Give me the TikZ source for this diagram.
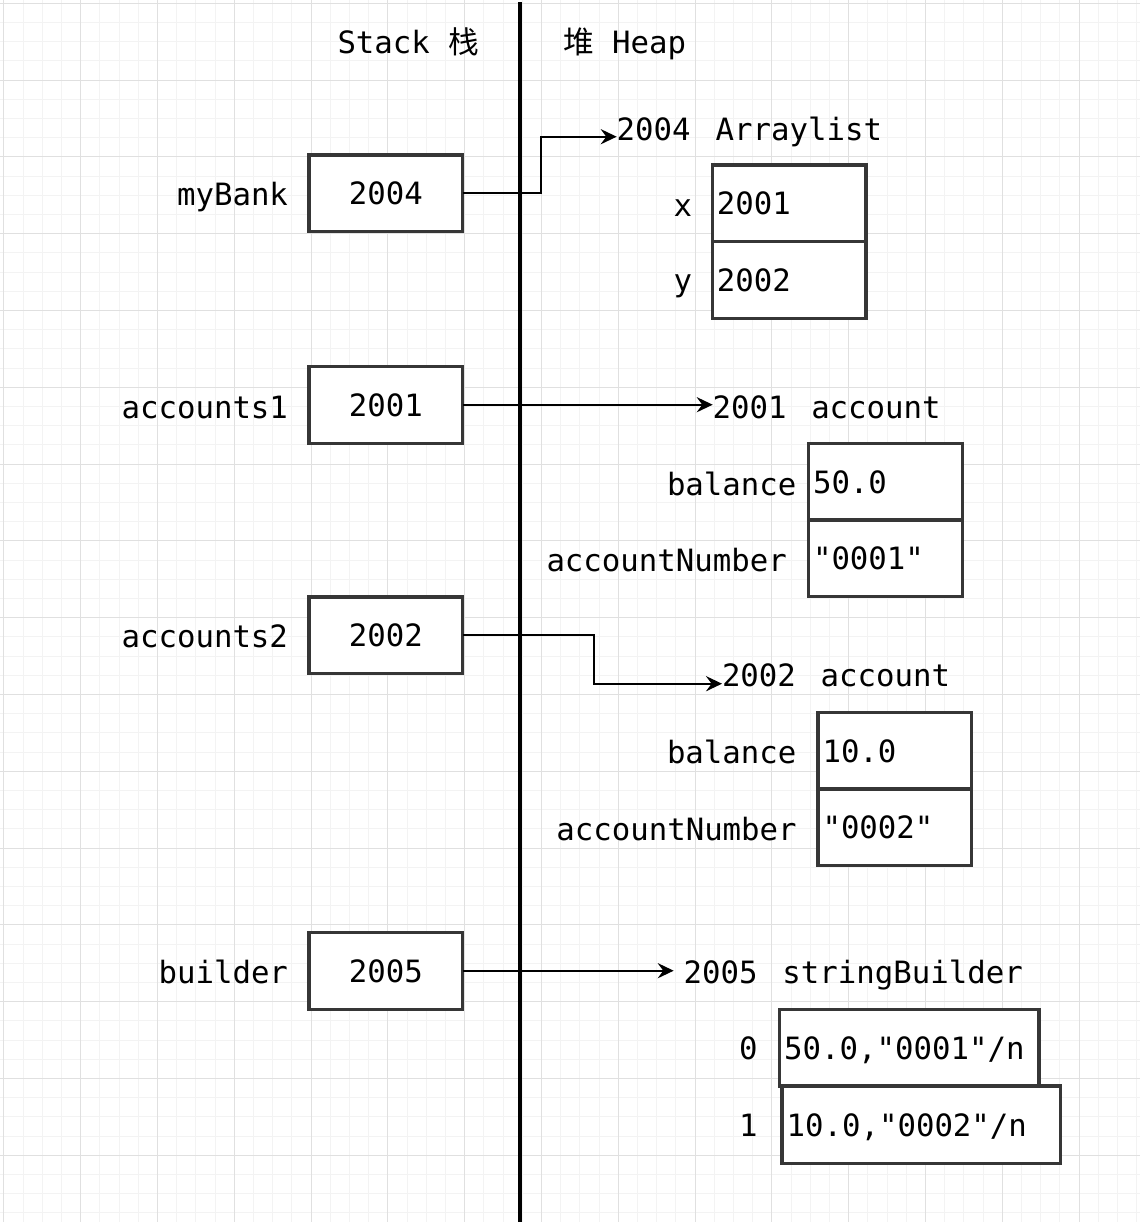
\documentclass[tikz,border=0pt]{standalone}
\usepackage{fontspec}
\setmonofont{DejaVu Sans Mono}
\newfontfamily\cjk{Noto Sans CJK SC}
\usetikzlibrary{arrows.meta,calc}
\definecolor{boxc}{HTML}{363636}
\definecolor{gmin}{HTML}{F3F3F3}
\definecolor{gmaj}{HTML}{E0E0E0}
\begin{document}
\begin{tikzpicture}[x=0.5pt,y=-0.5pt,
  every node/.style={font=\ttfamily\fontsize{15.36}{18}\selectfont, inner sep=0pt, outer sep=0pt},
  sbox/.style={draw=boxc, line width=1.6pt, fill=white, minimum width=76.8pt, minimum height=38.4pt, text height=11.6pt, text depth=0pt},
  cell/.style={draw=boxc, line width=1.6pt, fill=white, minimum height=38.4pt, inner xsep=2.25pt, align=left, text height=11.6pt, text depth=0pt},
  lbl/.style={anchor=base east},
  ttl/.style={anchor=base west},
  conn/.style={line width=0.95pt, -{Stealth[length=8pt,width=7.6pt,inset=2.8pt]}},
]
\useasboundingbox (0,0) rectangle (1140,1222);
\fill[white] (0,0) rectangle (1140,1222);
% grid
\foreach \i in {0,...,59} {\draw[gmin, line width=0.5pt] ({3.8+19.2*\i},0) -- ({3.8+19.2*\i},1222);}
\foreach \i in {0,...,63} {\draw[gmin, line width=0.5pt] (0,{3.3+19.2*\i}) -- (1140,{3.3+19.2*\i});}
\foreach \i in {0,...,14} {\draw[gmaj, line width=0.5pt] ({3.8+76.8*\i},0) -- ({3.8+76.8*\i},1222);}
\foreach \i in {0,...,15} {\draw[gmaj, line width=0.5pt] (0,{3.3+76.8*\i}) -- (1140,{3.3+76.8*\i});}

% titles
\node[ttl] (stk) at (337.5,53.3) {Stack {\cjk 栈}};
\node[ttl] (hp) at (563,53.3) {{\cjk 堆} Heap};

% stack
\node[sbox] (mybank) at (385.8,193.3) {2004};
\node[lbl] (mybankl) at (288,205.7) {myBank};
\node[sbox] (acc1) at (385.8,404.7) {2001};
\node[lbl] (acc1l) at (288,418.3) {accounts1};
\node[sbox] (acc2) at (385.8,635.3) {2002};
\node[lbl] (acc2l) at (288,647.7) {accounts2};
\node[sbox] (bld) at (385.8,970.7) {2005};
\node[lbl] (bldl) at (288,983.3) {builder};

% heap: Arraylist
\node[ttl] (alt) at (616.7,140.7) {2004\hspace{12.5pt}Arraylist};
\node[cell, text width=72.3pt] (cx) at (789.2,203.3) {2001};
\node[cell, text width=72.3pt] (cy) at (789.2,280) {2002};
\node[ttl] (cxl) at (673.5,216) {x};
\node[ttl] (cyl) at (673.5,291) {y};

% heap: account 2001
\node[ttl] (a1t) at (712.7,418.3) {2001\hspace{12.3pt}account};
\node[cell, text width=72.3pt] (a1b) at (885.3,481.7) {50.0};
\node[cell, text width=72.3pt] (a1n) at (885.3,558.3) {"0001"};
\node[ttl] (a1bl) at (667,495) {balance};
\node[ttl] (a1nl) at (546.5,571.7) {accountNumber};

% heap: account 2002
\node[ttl] (a2t) at (722,686.7) {2002\hspace{12.3pt}account};
\node[cell, text width=72.3pt] (a2b) at (894.8,750.7) {10.0};
\node[cell, text width=72.3pt] (a2n) at (894.8,827.3) {"0002"};
\node[ttl] (a2bl) at (667,763.3) {balance};
\node[ttl] (a2nl) at (556.3,840) {accountNumber};

% heap: stringBuilder
\node[ttl] (sbt) at (683.7,983.3) {2005\hspace{12.4pt}stringBuilder};
\node[cell, text width=125.15pt] (s0) at (909.3,1048) {50.0,"0001"/n};
\node[cell, text width=134.65pt, minimum height=38.65pt] (s1) at (921.2,1124.7) {10.0,"0002"/n};
\node[ttl] (s0l) at (739,1059) {0};
\node[ttl] (s1l) at (739,1136.7) {1};

% divider
\draw[line width=1.9pt] (520,2) -- (520,1222);

% connectors
\draw[conn] (mybank.east) -- ++(78,0) |- ($(alt.base west)+(0,-4)$);
\draw[conn] (acc1.east) -- (acc1.east -| a1t.base west);
\draw[conn] (acc2.east) -- ++(131.7,0) |- ($(a2t.base west)+(0,-3)$);
\draw[conn] (bld.east) -- ($(bld.east -| sbt.base west)+(-10,0)$);
\end{tikzpicture}
\end{document}
